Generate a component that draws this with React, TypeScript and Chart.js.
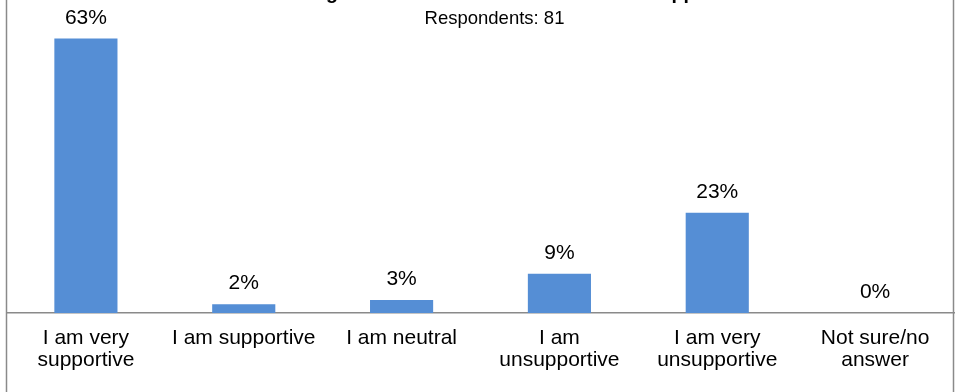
import React, { useEffect, useRef } from "react";
import { Chart, registerables } from "chart.js";

Chart.register(...registerables);

const titleText = "Overall feeling about the new rate harmonisation approach";
const subtitleText = "Respondents: 81";
const categories: (string | string[])[] = [
  ["I am very", "supportive"],
  "I am supportive",
  "I am neutral",
  ["I am", "unsupportive"],
  ["I am very", "unsupportive"],
  ["Not sure/no", "answer"],
];
const percentages = [63, 2, 3, 9, 23, 0];

const FONT = "'Liberation Sans', Arial, sans-serif";
const FRAME = "#8a8a8a";

// Outer frame, headings and the percentage above each bar
const decorations = {
  id: "decorations",
  afterDraw(chart: any) {
    const { ctx, height } = chart;
    ctx.save();
    ctx.strokeStyle = FRAME;
    ctx.lineWidth = 1.5;
    ctx.beginPath();
    ctx.moveTo(6.5, 0);
    ctx.lineTo(6.5, height);
    ctx.moveTo(953.5, 0);
    ctx.lineTo(953.5, height);
    ctx.stroke();

    ctx.fillStyle = "#000";
    ctx.textAlign = "center";
    ctx.textBaseline = "alphabetic";
    ctx.font = `bold 19.5px ${FONT}`;
    ctx.fillText(titleText, 476, -1);
    ctx.font = `18.5px ${FONT}`;
    ctx.fillText(subtitleText, 494.5, 24);

    ctx.font = `21px ${FONT}`;
    const meta = chart.getDatasetMeta(0);
    meta.data.forEach((bar: any, i: number) => {
      ctx.fillText(`${percentages[i]}%`, bar.x, bar.y - 15);
    });
    ctx.restore();
  },
};

export default function App() {
  const canvasRef = useRef<HTMLCanvasElement | null>(null);

  useEffect(() => {
    if (!canvasRef.current) return;
    const chart = new Chart(canvasRef.current, {
      type: "bar",
      data: {
        labels: categories,
        datasets: [
          {
            data: percentages,
            backgroundColor: "#558ED5",
            barPercentage: 0.4,
            categoryPercentage: 1,
          },
        ],
      },
      options: {
        responsive: false,
        animation: false,
        layout: { padding: { left: 7, right: 3, top: 8, bottom: 7 } },
        plugins: {
          legend: { display: false },
          tooltip: { enabled: false },
          title: { display: false },
        },
        scales: {
          x: {
            grid: { display: false, drawTicks: false },
            border: { display: true, color: FRAME, width: 1.5 },
            ticks: {
              color: "#000",
              padding: 14,
              maxRotation: 0,
              autoSkip: false,
              font: { family: FONT, size: 21, lineHeight: "22px" },
            },
          },
          y: {
            display: false,
            min: 0,
            max: 70,
          },
        },
      },
      plugins: [decorations],
    });
    return () => chart.destroy();
  }, []);

  return (
    <div style={{ position: "fixed", top: 0, left: 0, width: 957, height: 392, background: "#fff" }}>
      <canvas ref={canvasRef} width={957} height={392} />
    </div>
  );
}
